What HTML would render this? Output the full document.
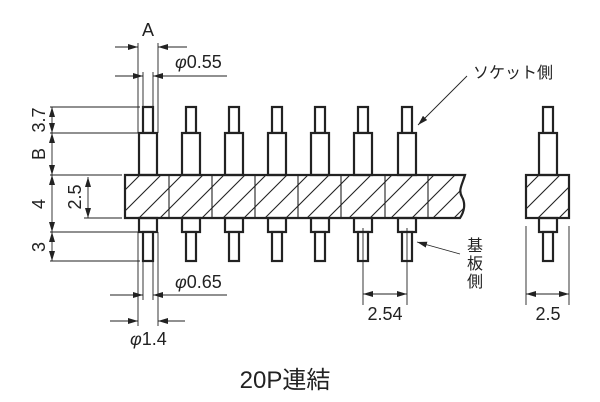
<!DOCTYPE html>
<html><head><meta charset="utf-8"><style>body{margin:0;background:#fff}svg{display:block}</style></head><body>
<svg width="600" height="402" viewBox="0 0 600 402" xmlns="http://www.w3.org/2000/svg" font-family="Liberation Sans, Noto Sans CJK JP, sans-serif">
<defs>
<pattern id="h" patternUnits="userSpaceOnUse" width="21" height="21">
<path d="M-2,23 L23,-2 M-23,23 L2,-2 M19,23 L44,-2" stroke="#222" stroke-width="1.1"/>
</pattern>
<marker id="a" viewBox="0 0 10 6" refX="10" refY="3" markerWidth="10" markerHeight="6" orient="auto-start-reverse" markerUnits="userSpaceOnUse"><path d="M0,0 L10,3 L0,6z" fill="#222"/></marker>
</defs>
<g stroke="#222" fill="none">
<g stroke-width="2.2" fill="#fff">
<g id="p"><rect x="143" y="107" width="10" height="26"/><rect x="139" y="133" width="18" height="42"/><rect x="139" y="218" width="18" height="14"/><rect x="143" y="232" width="10" height="29"/></g>
<use href="#p" x="43"/><use href="#p" x="86"/><use href="#p" x="129"/><use href="#p" x="172"/><use href="#p" x="215"/><use href="#p" x="259"/><use href="#p" x="400"/>
</g>
<path d="M125,175 H465 C462,185 458,190 462,197 C466,204 464,212 460,218 H125 Z" fill="url(#h)" stroke-width="2.2"/>
<g stroke-width="1.1"><path d="M169,175V218M212,175V218M255,175V218M298,175V218M341,175V218M385,175V218M428,175V218"/></g>
<rect x="526" y="175" width="43" height="43" fill="url(#h)" stroke-width="2.2"/>
<g stroke-width="0.9">
<path d="M50,107H140M50,133H138M50,175H122M50,232H138M50,261H140M84,218H122"/>
<path d="M138,43V133M158,43V133M143,72V107M153,72V107M143,261V300M153,261V300M138,232V326M158,232V326"/>
<path d="M363,228V305M407,228V305M526,226V305M569,226V305"/>
<path d="M115,47H138" marker-end="url(#a)"/><path d="M187,47H158" marker-end="url(#a)"/>
<path d="M115,76H143" marker-end="url(#a)"/><path d="M227,76H153" marker-end="url(#a)"/>
<path d="M110,295H143" marker-end="url(#a)"/><path d="M227,295H153" marker-end="url(#a)"/>
<path d="M110,321H138" marker-end="url(#a)"/><path d="M185,321H158" marker-end="url(#a)"/>
<path d="M52,107V133" marker-start="url(#a)" marker-end="url(#a)"/>
<path d="M52,133V175" marker-start="url(#a)" marker-end="url(#a)"/>
<path d="M52,175V232" marker-start="url(#a)" marker-end="url(#a)"/>
<path d="M52,232V261" marker-start="url(#a)" marker-end="url(#a)"/>
<path d="M88,177V218" marker-start="url(#a)" marker-end="url(#a)"/>
<path d="M363,294H407" marker-start="url(#a)" marker-end="url(#a)"/>
<path d="M526,294H569" marker-start="url(#a)" marker-end="url(#a)"/>
<path d="M467,76L418,125" marker-end="url(#a)"/>
<path d="M460,254L417,242" marker-end="url(#a)"/>
</g>
</g>
<g fill="#222" font-size="18">
<text x="148" y="36" text-anchor="middle">A</text>
<text x="175" y="68"><tspan font-style="italic">φ</tspan>0.55</text>
<text x="175" y="288"><tspan font-style="italic">φ</tspan>0.65</text>
<text x="130" y="345"><tspan font-style="italic">φ</tspan>1.4</text>
<text x="385" y="320" text-anchor="middle">2.54</text>
<text x="548" y="320" text-anchor="middle">2.5</text>
<text transform="translate(45,120) rotate(-90)" text-anchor="middle">3.7</text>
<text transform="translate(45,154) rotate(-90)" text-anchor="middle">B</text>
<text transform="translate(45,204) rotate(-90)" text-anchor="middle">4</text>
<text transform="translate(45,247) rotate(-90)" text-anchor="middle">3</text>
<text transform="translate(81,197) rotate(-90)" text-anchor="middle">2.5</text>
<text x="473" y="78" font-size="16">ソケット側</text>
<text x="467" y="251" font-size="16">基</text>
<text x="467" y="269" font-size="16">板</text>
<text x="467" y="287" font-size="16">側</text>
<text x="285" y="388" font-size="24" text-anchor="middle">20P連結</text>
</g>
</svg>
</body></html>
